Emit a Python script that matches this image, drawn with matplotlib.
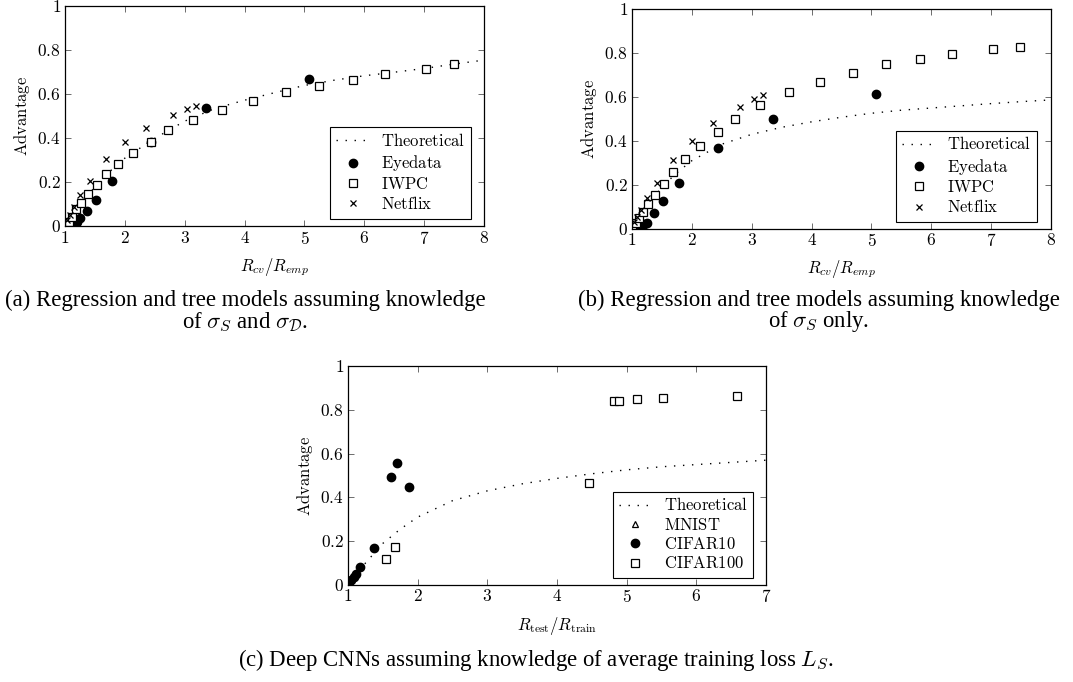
import matplotlib
matplotlib.use("Agg")
import matplotlib.pyplot as plt
from matplotlib.ticker import FixedLocator, FuncFormatter

plt.rcParams['mathtext.fontset'] = 'cm'
plt.rcParams['font.family'] = ['Liberation Serif', 'DejaVu Serif']

# ---- (a) knowledge of sigma_S and sigma_D ----
theo_a_x = [1, 1.25, 1.5, 1.75, 2, 2.5, 3, 3.5, 4, 4.5, 5, 5.5, 6, 6.5, 7, 7.5, 8]
theo_a_y = [0, 0.095, 0.18, 0.25, 0.31, 0.40, 0.478, 0.535, 0.573, 0.607, 0.64, 0.664,
            0.684, 0.70, 0.717, 0.737, 0.755]
eye_x = [1.12, 1.16, 1.2, 1.25, 1.36, 1.52, 1.78, 2.43, 3.36, 5.07]
eye_a_y = [0.0, 0.01, 0.02, 0.037, 0.069, 0.119, 0.206, 0.385, 0.537, 0.670]
iwpc_x = [1.0, 1.06, 1.11, 1.18, 1.27, 1.39, 1.53, 1.68, 1.88, 2.13, 2.43, 2.72, 3.14,
          3.63, 4.14, 4.69, 5.25, 5.81, 6.35, 7.03, 7.49]
iwpc_a_y = [0.005, 0.022, 0.044, 0.078, 0.108, 0.147, 0.188, 0.237, 0.283, 0.335, 0.385,
            0.438, 0.484, 0.530, 0.568, 0.608, 0.639, 0.664, 0.692, 0.716, 0.736]
netflix_x = [1.03, 1.08, 1.15, 1.25, 1.41, 1.69, 2.01, 2.36, 2.80, 3.04, 3.19]
netflix_a_y = [0.03, 0.05, 0.09, 0.143, 0.206, 0.307, 0.383, 0.447, 0.504, 0.533, 0.546]

# ---- (b) knowledge of sigma_S only ----
theo_b_x = [1, 1.25, 1.5, 1.75, 2, 2.5, 3, 3.5, 4, 4.5, 5, 5.5, 6, 6.5, 7, 7.5, 8]
theo_b_y = [0, 0.10, 0.19, 0.255, 0.31, 0.385, 0.43, 0.462, 0.487, 0.508, 0.526, 0.54,
            0.55, 0.56, 0.57, 0.579, 0.587]
eye_b_y = [0.0, 0.008, 0.02, 0.027, 0.073, 0.125, 0.210, 0.366, 0.500, 0.613]
iwpc_b_y = [0.0, 0.025, 0.047, 0.077, 0.113, 0.154, 0.202, 0.257, 0.316, 0.377, 0.441,
            0.501, 0.564, 0.623, 0.667, 0.711, 0.749, 0.772, 0.795, 0.818, 0.830]
netflix_b_y = [0.03, 0.055, 0.085, 0.139, 0.207, 0.313, 0.400, 0.482, 0.556, 0.590, 0.609]

# ---- (c) deep CNNs ----
theo_c_x = [1, 1.25, 1.5, 1.75, 2, 2.5, 3, 3.5, 4, 4.5, 5, 5.5, 6, 6.5, 7]
theo_c_y = [0, 0.10, 0.19, 0.255, 0.31, 0.385, 0.43, 0.462, 0.487, 0.508, 0.526, 0.54,
            0.55, 0.56, 0.57]
mnist_x = [1.01, 1.02]
mnist_y = [0.005, 0.01]
cifar10_x = [1.02, 1.04, 1.08, 1.11, 1.17, 1.38, 1.62, 1.71, 1.87]
cifar10_y = [0.015, 0.023, 0.038, 0.05, 0.084, 0.171, 0.495, 0.558, 0.449]
cifar100_x = [1.54, 1.67, 4.46, 4.82, 4.89, 5.15, 5.52, 6.58]
cifar100_y = [0.12, 0.175, 0.465, 0.841, 0.841, 0.849, 0.853, 0.861]

y_ticks = [0, 0.2, 0.4, 0.6, 0.8, 1]


def fmt(v, pos):
    return '$%g$' % v


def style_axes(ax, xmax):
    ax.set_xlim(1, xmax)
    ax.set_ylim(0, 1)
    ax.xaxis.set_major_locator(FixedLocator(list(range(1, xmax + 1))))
    ax.yaxis.set_major_locator(FixedLocator(y_ticks))
    ax.xaxis.set_major_formatter(FuncFormatter(fmt))
    ax.yaxis.set_major_formatter(FuncFormatter(fmt))
    ax.tick_params(direction='in', length=4, width=0.6, color='#555555',
                   top=True, right=True, labelsize=12.5, pad=3)
    for s in ax.spines.values():
        s.set_linewidth(0.9)
    ax.set_ylabel(r'$\mathrm{Advantage}$', fontsize=12, labelpad=4)


def add_legend(ax, anchor):
    leg = ax.legend(loc='lower right', bbox_to_anchor=anchor, borderaxespad=0,
                    fancybox=False, framealpha=1, edgecolor='black', fontsize=12,
                    handlelength=2.0, labelspacing=0.2, borderpad=0.35,
                    handletextpad=0.7)
    leg.get_frame().set_linewidth(0.8)


fig = plt.figure(figsize=(10.73, 6.82), dpi=100)

theo_kw = dict(color='black', lw=1.0, linestyle=(0, (1, 5.5)))
dot_kw = dict(linestyle='none', marker='o', ms=6, color='black')
sq_kw = dict(linestyle='none', marker='s', ms=6, mfc='white', mec='black', mew=0.9)
x_kw = dict(linestyle='none', marker='x', ms=4.2, color='black', mew=0.9)

# (a)
ax1 = fig.add_axes([0.0606, 0.668, 0.3905, 0.323])
ax1.plot(theo_a_x, theo_a_y, label=r'$\mathrm{Theoretical}$', **theo_kw)
ax1.plot(eye_x, eye_a_y, label=r'$\mathrm{Eyedata}$', **dot_kw)
ax1.plot(iwpc_x, iwpc_a_y, label=r'$\mathrm{IWPC}$', **sq_kw)
ax1.plot(netflix_x, netflix_a_y, label=r'$\mathrm{Netflix}$', **x_kw)
style_axes(ax1, 8)
ax1.set_xlabel(r'$R_{cv}/R_{emp}$', fontsize=12, labelpad=6)
add_legend(ax1, (0.969, 0.034))

# (b)
ax2 = fig.add_axes([0.589, 0.6647, 0.3905, 0.3217])
ax2.plot(theo_b_x, theo_b_y, label=r'$\mathrm{Theoretical}$', **theo_kw)
ax2.plot(eye_x, eye_b_y, label=r'$\mathrm{Eyedata}$', **dot_kw)
ax2.plot(iwpc_x, iwpc_b_y, label=r'$\mathrm{IWPC}$', **sq_kw)
ax2.plot(netflix_x, netflix_b_y, label=r'$\mathrm{Netflix}$', **x_kw)
style_axes(ax2, 8)
ax2.set_xlabel(r'$R_{cv}/R_{emp}$', fontsize=12, labelpad=6)
add_legend(ax2, (0.967, 0.029))

# (c)
ax3 = fig.add_axes([0.3243, 0.1422, 0.3896, 0.3211])
ax3.plot(theo_c_x, theo_c_y, label=r'$\mathrm{Theoretical}$', **theo_kw)
ax3.plot(mnist_x, mnist_y, linestyle='none', marker='^', ms=4.5, mfc='white',
         mec='black', mew=0.9, label=r'$\mathrm{MNIST}$')
ax3.plot(cifar10_x, cifar10_y, label=r'$\mathrm{CIFAR10}$', **dot_kw)
ax3.plot(cifar100_x, cifar100_y, label=r'$\mathrm{CIFAR100}$', **sq_kw)
style_axes(ax3, 7)
ax3.set_xlabel(r'$R_{\mathrm{test}}/R_{\mathrm{train}}$', fontsize=12, labelpad=6)
add_legend(ax3, (0.970, 0.031))

# captions
cap = 16.4
fig.text(245 / 1073, 1 - 300 / 682, '(a) Regression and tree models assuming knowledge',
         ha='center', va='center', fontsize=cap)
fig.text(245 / 1073, 1 - 322 / 682, r'of $\sigma_S$ and $\sigma_{\mathcal{D}}$.',
         ha='center', va='center', fontsize=cap)
fig.text(819 / 1073, 1 - 300 / 682, '(b) Regression and tree models assuming knowledge',
         ha='center', va='center', fontsize=cap)
fig.text(819 / 1073, 1 - 322 / 682, r'of $\sigma_S$ only.',
         ha='center', va='center', fontsize=cap)
fig.text(536 / 1073, 1 - 660 / 682,
         r'(c) Deep CNNs assuming knowledge of average training loss $L_S$.',
         ha='center', va='center', fontsize=cap)

fig.savefig('out.png', dpi=100)
